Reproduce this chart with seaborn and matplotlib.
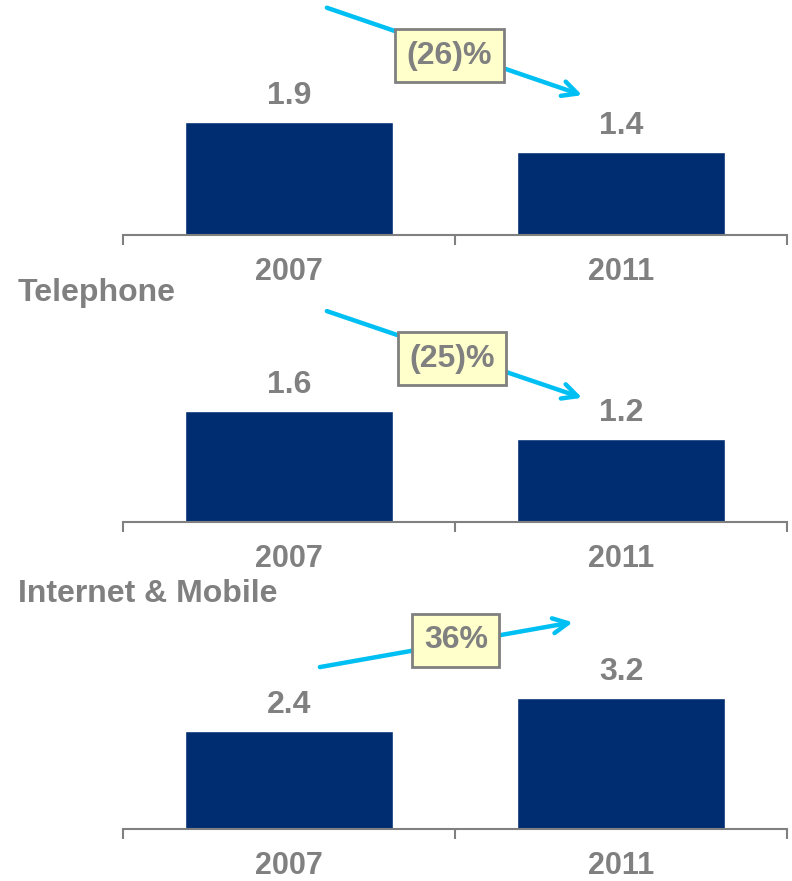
import matplotlib
matplotlib.use("Agg")
import matplotlib.pyplot as plt
import seaborn as sns
import pandas as pd

sns.set_theme(style="white")

# Data
years = ["2007", "2011"]
panel_titles = ["", "Telephone", "Internet & Mobile"]
values_top = [1.9, 1.4]
values_telephone = [1.6, 1.2]
values_internet = [2.4, 3.2]
change_labels = ["(26)%", "(25)%", "36%"]

panel_values = [values_top, values_telephone, values_internet]

BAR = "#002D72"
GREY = "#808080"
CYAN = "#00BFF3"
BOX = "#FFFFCC"

plt.rcParams["font.family"] = ["Liberation Sans", "DejaVu Sans"]

W, H = 792, 881
fig = plt.figure(figsize=(W / 100, H / 100), dpi=100)

# axes layout (pixels): baseline, top, y-limit
layout = [
    (235, 0, 3.95),
    (522, 300, 3.20),
    (829, 610, 5.37),
]
# arrow start/end and box centre in data coordinates
arrows = [
    ((0.114, 3.82), (0.883, 2.35), (0.483, 3.01)),
    ((0.114, 3.04), (0.883, 1.79), (0.491, 2.35)),
    ((0.093, 3.97), (0.855, 5.07), (0.503, 4.63)),
]
title_y = [None, 293, 594]

left, right = 123, 787
for i, (base, top, ymax) in enumerate(layout):
    ax = fig.add_axes([left / W, 1 - base / H, (right - left) / W, (base - top) / H])
    df = pd.DataFrame({"year": years, "value": panel_values[i]})
    sns.barplot(data=df, x="year", y="value", color=BAR, width=0.627,
                saturation=1, ax=ax)
    ax.set_xlim(-0.5, 1.5)
    ax.set_ylim(0, ymax)
    ax.patch.set_alpha(0)
    for s in ["top", "right", "left"]:
        ax.spines[s].set_visible(False)
    ax.spines["bottom"].set_color(GREY)
    ax.spines["bottom"].set_linewidth(1.5)
    ax.set_yticks([])
    ax.set_xlabel("")
    ax.set_ylabel("")
    # minor ticks at category boundaries, labels at centres
    ax.set_xticks([-0.5, 0.5, 1.5], minor=True)
    ax.tick_params(axis="x", which="minor", length=7, width=1.5, color=GREY,
                   direction="out", bottom=True)
    ax.tick_params(axis="x", which="major", length=0, pad=16)
    for lab in ax.get_xticklabels():
        lab.set_fontweight("bold")
        lab.set_fontsize(22)
        lab.set_color(GREY)
    ax.bar_label(ax.containers[0], labels=[f"{v:.1f}" for v in panel_values[i]],
                 padding=8, fontsize=23, fontweight="bold", color=GREY)

    (x0, y0), (x1, y1), (bx, by) = arrows[i]
    ax.annotate("", xy=(x1, y1), xytext=(x0, y0), annotation_clip=False,
                arrowprops=dict(arrowstyle="->,head_length=0.9,head_width=0.45",
                                color=CYAN, lw=3.2, shrinkA=0, shrinkB=0))
    ax.text(bx, by, change_labels[i], ha="center", va="center", fontsize=23,
            fontweight="bold", color=GREY, clip_on=False,
            bbox=dict(boxstyle="square,pad=0.36", facecolor=BOX, edgecolor=GREY,
                      linewidth=2))

    if panel_titles[i]:
        fig.text(18 / W, 1 - title_y[i] / H, panel_titles[i], ha="left",
                 va="center", fontsize=23, fontweight="bold", color=GREY)

fig.savefig("out.png", dpi=100)
